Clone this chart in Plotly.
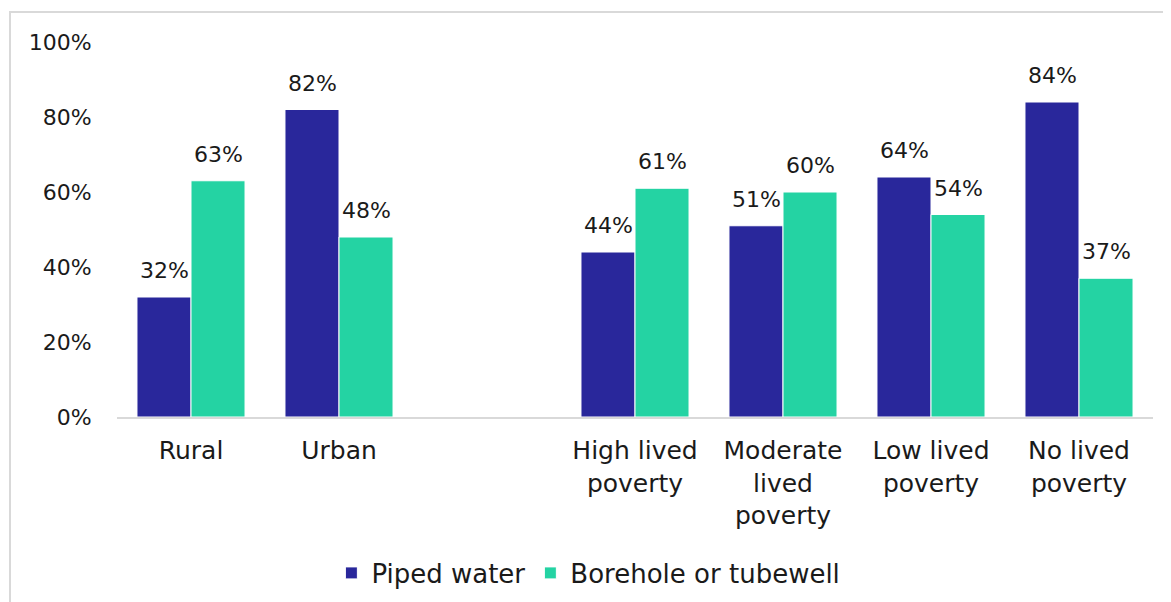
import plotly.graph_objects as go

# categories (blank entry = gap between the two groups)
categories = ["Rural", "Urban", " ", "High lived<br>poverty", "Moderate<br>lived<br>poverty",
              "Low lived<br>poverty", "No lived<br>poverty"]
piped = [32, 82, None, 44, 51, 64, 84]
borehole = [63, 48, None, 61, 60, 54, 37]
y_ticks = [0, 20, 40, 60, 80, 100]
y_labels = ["0%", "20%", "40%", "60%", "80%", "100%"]

font_family = "'DejaVu Sans', sans-serif"

fig = go.Figure()
fig.add_trace(go.Bar(x=categories, y=piped, name="Piped water",
                     marker=dict(color="#29279B", line=dict(color="white", width=1))))
fig.add_trace(go.Bar(x=categories, y=borehole, name="Borehole or tubewell",
                     marker=dict(color="#24D3A3", line=dict(color="white", width=1))))

# value labels above bars, shifted to each bar of the group
for vals, shift in [(piped, -27), (borehole, 27)]:
    for cat, v in zip(categories, vals):
        if v is None:
            continue
        fig.add_annotation(x=cat, y=v, text=f"{v}%", showarrow=False,
                           xshift=shift, yshift=12, yanchor="bottom",
                           font=dict(size=22, color="#1a1a1a"))

fig.update_layout(
    width=1171, height=602,
    barmode="group", bargap=0.27, bargroupgap=0.0,
    plot_bgcolor="white", paper_bgcolor="white",
    font=dict(family=font_family, size=22, color="#1a1a1a"),
    margin=dict(l=109, r=26, t=34, b=193),
    legend=dict(orientation="h", x=0.455, xanchor="center", y=-0.416, yanchor="middle",
                font=dict(size=26), itemwidth=30, traceorder="normal"),
    showlegend=True,
    shapes=[dict(type="rect", xref="paper", yref="paper",
                 x0=-0.1033, x1=1.05, y0=-0.6, y1=1.08,
                 line=dict(color="#D9D9D9", width=2), layer="below")],
)
fig.update_xaxes(showline=True, linecolor="#D9D9D9", linewidth=2, ticks="outside",
                 ticklen=10, tickcolor="rgba(0,0,0,0)", showgrid=False,
                 tickfont=dict(size=25))
fig.update_yaxes(range=[0, 100], tickvals=y_ticks, ticktext=y_labels, showgrid=False,
                 zeroline=False, ticks="outside", ticklen=20, tickcolor="rgba(0,0,0,0)")

fig.write_html("out.html")
